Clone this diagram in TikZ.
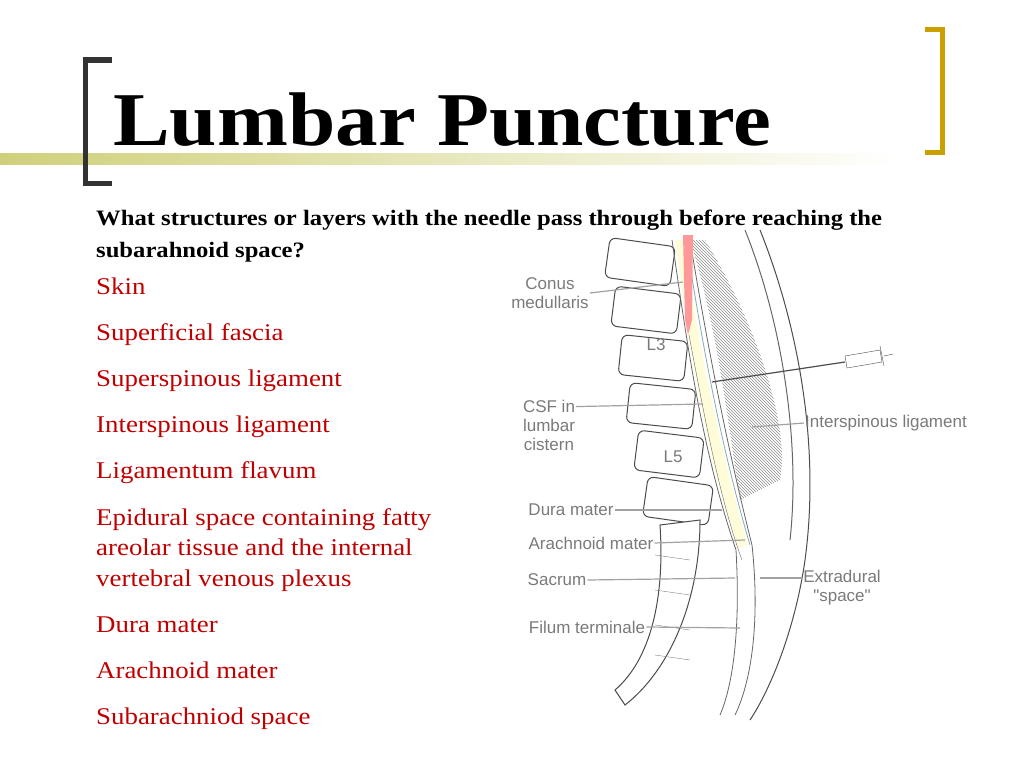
\documentclass[tikz,border=0pt]{standalone}
\usepackage{fontspec}
\setmainfont[FakeStretch=1.12]{Liberation Serif}
\newfontfamily\lab{Liberation Sans}
\usetikzlibrary{patterns,shadings}
\definecolor{itemred}{HTML}{C00000}
\definecolor{labgray}{HTML}{7A7A7A}
\definecolor{gold}{HTML}{C9A000}
\begin{document}
\begin{tikzpicture}[x=1pt,y=-1pt,
  item/.style={anchor=base west,text=itemred,font=\fontsize{24}{30.5}\selectfont,align=left,inner sep=0},
  lbl/.style={text=labgray,font=\lab\fontsize{17}{19}\selectfont,align=center,inner sep=1pt},
  lead/.style={draw=labgray!70,line width=1.2pt},
  bone/.style={draw=black!70,line width=1pt,fill=white,rounded corners=6pt}]
\useasboundingbox (0,0) rectangle (1024,768);
% header line
\shade[left color=black!5!olive!35,right color=white] (0,153) rectangle (900,164);
\node (title) [anchor=base west,inner sep=0,font=\fontsize{76}{80}\selectfont\bfseries] at (113,145) {Lumbar Puncture};
\draw[black!80,line width=5pt] (112,60) -- (85,60) -- (85,183) -- (112,183);
\draw[gold,line width=5pt] (925,30) -- (942,30) -- (942,152) -- (925,152);
\node (q) [anchor=base west,inner sep=0,align=left,font=\fontsize{22}{32}\selectfont\bfseries] at (96,257) {What structures or layers with the needle pass through before reaching the\\subarahnoid space?};
\node (i1) [item] at (96,294) {Skin};
\node (i2) [item] at (96,340) {Superficial fascia};
\node (i3) [item] at (96,386) {Superspinous ligament};
\node (i4) [item] at (96,432) {Interspinous ligament};
\node (i5) [item] at (96,478) {Ligamentum flavum};
\node (i6) [item] at (96,586) {Epidural space containing fatty\\areolar tissue and the internal\\vertebral venous plexus};
\node (i7) [item] at (96,632) {Dura mater};
\node (i8) [item] at (96,678) {Arachnoid mater};
\node (i9) [item] at (96,724) {Subarachniod space};
% illustration
\fill[pattern=north west lines,pattern color=black!45] (705,240) .. controls (760,330) and (790,430) .. (780,480) -- (740,500) .. controls (725,400) and (715,320) .. (690,240) -- cycle;
\draw[black!70,line width=1pt] (760,230) .. controls (800,330) and (820,450) .. (805,560) .. controls (795,630) and (770,690) .. (750,720);
\draw[black!60,line width=1pt] (745,230) .. controls (785,330) and (800,450) .. (790,540);
\foreach \c/\r in {{(640,262)}/-8,{(646,310)}/-7,{(653,358)}/-6,{(661,406)}/-6,{(669,454)}/-7,{(678,501)}/-8}{
  \node[bone,minimum width=66,minimum height=40,rotate=\r] at \c {};}
\draw[bone,rounded corners=0pt] (700,520) .. controls (700,600) and (670,670) .. (625,705) -- (615,690) .. controls (650,660) and (665,600) .. (660,525) -- cycle;
\foreach \y in {555,590,625,655}{\draw[black!50] (655,\y) -- (690,\y+5);}
\fill[yellow!15] (683,240) .. controls (700,350) and (720,450) .. (748,545) -- (738,548) .. controls (705,450) and (690,350) .. (675,240) -- cycle;
\draw[cyan!50!black!60,line width=0.8pt] (686,240) .. controls (703,350) and (722,450) .. (750,545);
\draw[black!60,line width=0.8pt] (672,240) .. controls (688,350) and (702,450) .. (736,550) .. controls (740,620) and (735,680) .. (720,715);
\draw[black!60,line width=0.8pt] (690,240) .. controls (708,350) and (728,450) .. (752,545) .. controls (760,620) and (752,680) .. (735,715);
\fill[red!40] (683,235) -- (693,235) -- (692,320) -- (688,335) -- (685,320) -- cycle;
\draw[black!60] (689,335) .. controls (705,420) and (720,500) .. (742,560);
% needle
\coordinate (tip) at (712,382);
\draw[black!70,line width=1.2pt] (tip) -- (845,362);
\draw[black!70,fill=white] (845,356) -- (880,350) -- (882,362) -- (847,368) -- cycle;
\draw[black!70] (880,346) -- (884,366) (884,356) -- (893,354);
% labels
\node (conus) [lbl] at (550,293) {Conus\\medullaris};
\coordinate (conusE) at (683,282);
\draw[lead] (conus.east) -- (conusE);
\node (l3) [lbl] at (656,345) {L3};
\node (csf) [lbl] at (549,425) {CSF in\\lumbar\\cistern};
\coordinate (csfE) at (703,404);
\draw[lead] (csf.north east) ++(0,8) -- (csfE);
\node (l5) [lbl] at (673,457) {L5};
\node (isl) [lbl] at (886,423) {Interspinous ligament};
\coordinate (islE) at (752,427);
\draw[lead] (isl.west) -- (islE);
\node (dura) [lbl] at (571,510) {Dura mater};
\coordinate (duraE) at (722,510);
\draw[lead] (dura.east) -- (duraE);
\node (arach) [lbl] at (591,543) {Arachnoid mater};
\coordinate (arachE) at (745,540);
\draw[lead] (arach.east) -- (arachE);
\node (sacrum) [lbl] at (557,580) {Sacrum};
\coordinate (sacE) at (735,578);
\draw[lead] (sacrum.east) -- (sacE);
\node (extra) [lbl] at (842,588) {Extradural\\"space"};
\coordinate (extE) at (760,578);
\draw[lead] (extra.west) ++(0,-10) -- (extE);
\node (filum) [lbl] at (587,627) {Filum terminale};
\coordinate (filE) at (740,628);
\draw[lead] (filum.east) -- (filE);
\end{tikzpicture}
\end{document}
